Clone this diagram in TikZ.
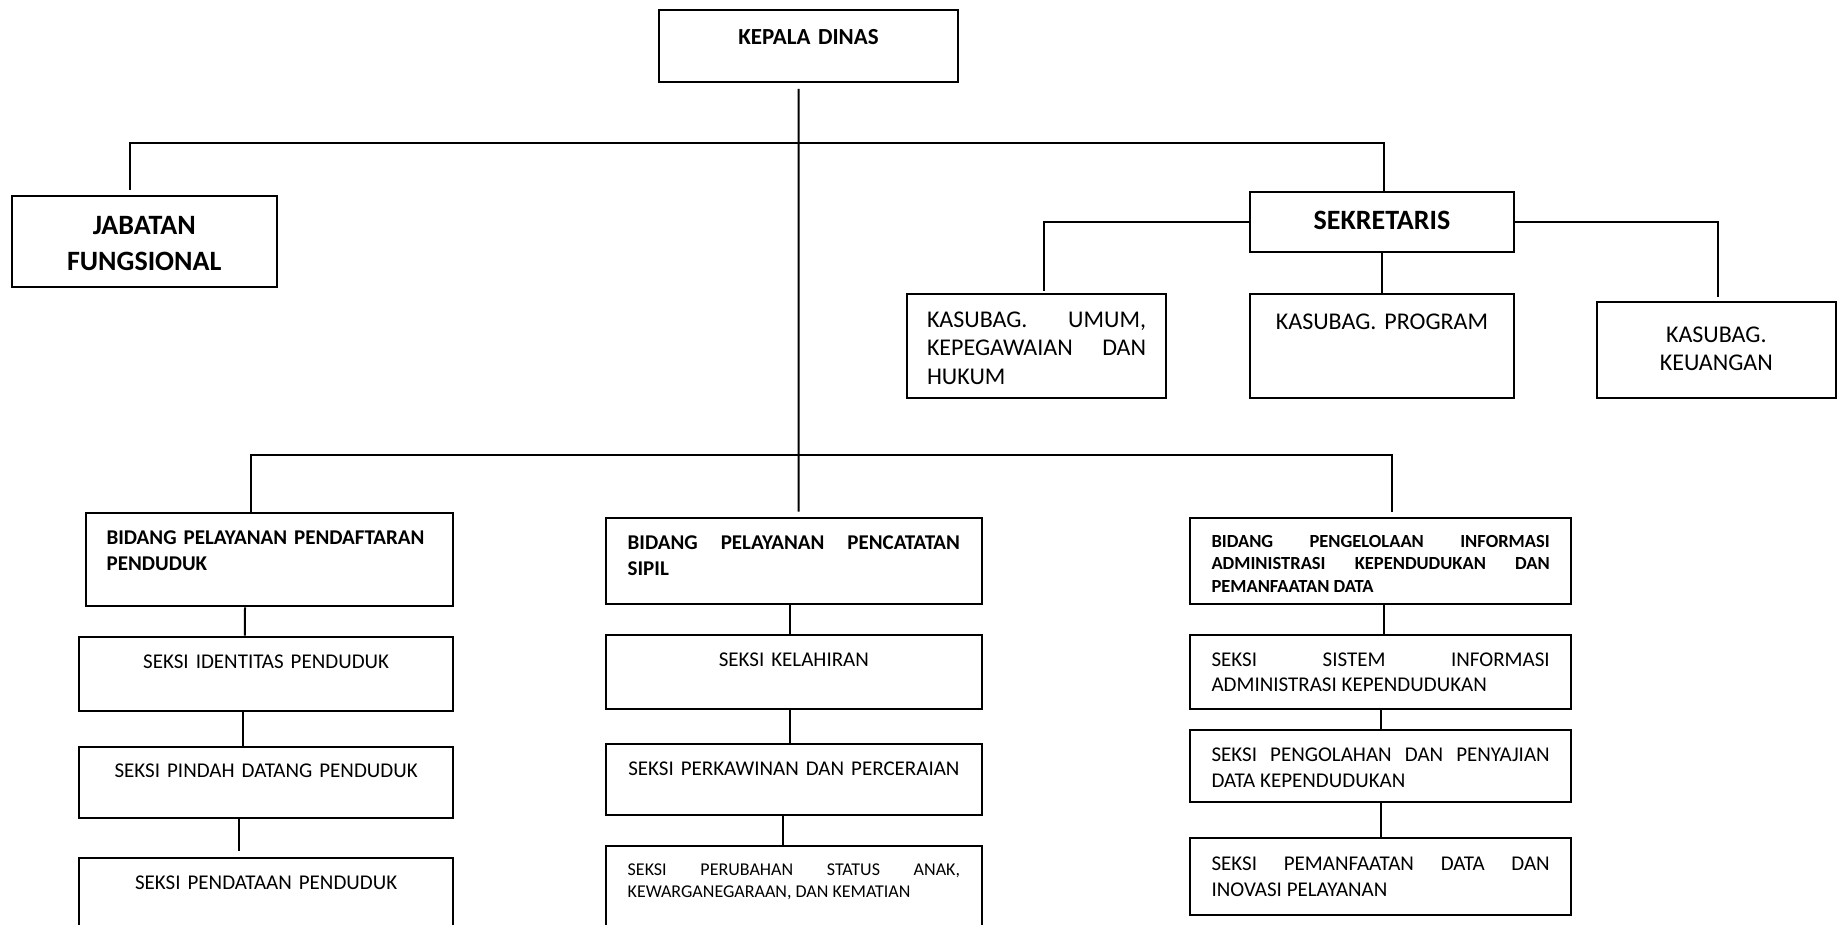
\documentclass[tikz,border=0pt]{standalone}
\usepackage{fontspec}
\setmainfont{Carlito}
\usepackage{tikz}
\frenchspacing

\tikzset{
	orgbox/.style={draw, line width=2pt, anchor=north west, inner ysep=0pt},
	link/.style={line width=2pt},
	seksi/.style={font=\fontsize{21}{25.7}\selectfont},
	seksikecil/.style={font=\fontsize{18}{22.7}\selectfont},
	kasubag/.style={font=\fontsize{24}{28.3}\selectfont},
	bidang/.style={font=\bfseries\fontsize{21}{26.2}\selectfont},
	bidangkecil/.style={font=\bfseries\fontsize{18.5}{22.8}\selectfont},
	kepala/.style={font=\bfseries\fontsize{23}{26}\selectfont},
	besar/.style={font=\bfseries\fontsize{28}{36}\selectfont}
}

\begin{document}
\begin{tikzpicture}[x=1pt, y=-1pt]
		
		\useasboundingbox (0,0) rectangle (1839,925);
		\clip (0,0) rectangle (1839,925);
		
		% pimpinan
		\node[orgbox, kepala, align=center, inner xsep=15pt, text width=269pt, text height=35pt, text depth=37pt] (kadis) at (658,9) {KEPALA DINAS};
		\node[orgbox, besar, align=center, inner xsep=10pt, text width=245.5pt, text height=38.3pt, text depth=52.7pt] (jafung) at (10.5,195) {JABATAN\\FUNGSIONAL};
		\node[orgbox, besar, align=center, inner xsep=10pt, text width=244pt, text height=37.6pt, text depth=22.7pt] (sekre) at (1249,190.7) {SEKRETARIS};
		
		% sekretariat
		\node[orgbox, kasubag, align=justify, inner xsep=20pt, text width=219pt, text height=34pt, text depth=70.6pt] (umum) at (906,292.7) {KASUBAG. UMUM,\linebreak KEPEGAWAIAN DAN\linebreak HUKUM};
		\node[orgbox, kasubag, align=center, inner xsep=10pt, text width=244pt, text height=35.6pt, text depth=69pt] (program) at (1249,292.7) {KASUBAG. PROGRAM};
		\node[orgbox, kasubag, align=center, inner xsep=10pt, text width=219.4pt, text height=41pt, text depth=55.6pt] (keuangan) at (1595.6,300.7) {\baselineskip=23.5pt KASUBAG.\\KEUANGAN};
		
		% bidang
		\node[orgbox, bidang, align=left, inner xsep=21pt, text width=325.4pt, text height=31.3pt, text depth=62pt] (daftar) at (84.6,512) {BIDANG PELAYANAN PENDAFTARAN\\PENDUDUK};
		\node[orgbox, bidang, align=justify, inner xsep=21.7pt, text width=332.3pt, text height=31.6pt, text depth=55pt] (capil) at (605,516.7) {BIDANG PELAYANAN PENCATATAN\linebreak SIPIL};
		\node[orgbox, bidangkecil, align=justify, inner xsep=21.3pt, text width=338.2pt, text height=28.7pt, text depth=57.3pt] (piak) at (1189.2,517.3) {BIDANG PENGELOLAAN INFORMASI\linebreak ADMINISTRASI KEPENDUDUKAN DAN\linebreak PEMANFAATAN DATA};
		
		% seksi pendaftaran penduduk
		\node[orgbox, seksi, align=center, inner xsep=15pt, text width=343.7pt, text height=31.6pt, text depth=43pt] (identitas) at (78.3,635.7) {SEKSI IDENTITAS PENDUDUK};
		\node[orgbox, seksi, align=center, inner xsep=15pt, text width=343.7pt, text height=31pt, text depth=40pt] (pindah) at (78.3,745.7) {SEKSI PINDAH DATANG PENDUDUK};
		\node[orgbox, seksi, align=center, inner xsep=15pt, text width=343.7pt, text height=31.6pt, text depth=78pt] (pendataan) at (78.3,856.7) {SEKSI PENDATAAN PENDUDUK};
		
		% seksi pencatatan sipil
		\node[orgbox, seksi, align=center, inner xsep=15pt, text width=345.7pt, text height=31pt, text depth=43.3pt] (lahir) at (605,634) {SEKSI KELAHIRAN};
		\node[orgbox, seksi, align=center, inner xsep=15pt, text width=345.7pt, text height=30.7pt, text depth=40pt] (kawin) at (605,743.3) {SEKSI PERKAWINAN DAN PERCERAIAN};
		\node[orgbox, seksikecil, align=justify, inner xsep=21.7pt, text width=332.3pt, text height=29pt, text depth=81pt] (status) at (605,845) {SEKSI PERUBAHAN STATUS ANAK,\linebreak KEWARGANEGARAAN, DAN KEMATIAN};
		
		% seksi informasi
		\node[orgbox, seksi, align=justify, inner xsep=21.3pt, text width=338.2pt, text height=31pt, text depth=43.3pt] (sistem) at (1189.2,634) {SEKSI SISTEM INFORMASI\linebreak ADMINISTRASI KEPENDUDUKAN};
		\node[orgbox, seksi, align=justify, inner xsep=21.3pt, text width=338.2pt, text height=31.4pt, text depth=40pt] (olah) at (1189.2,729.3) {SEKSI PENGOLAHAN DAN PENYAJIAN\linebreak DATA KEPENDUDUKAN};
		\node[orgbox, seksi, align=justify, inner xsep=21.3pt, text width=338.2pt, text height=32pt, text depth=45pt] (manfaat) at (1189.2,837.3) {SEKSI PEMANFAATAN DATA DAN\linebreak INOVASI PELAYANAN};
		
		% garis komando
		\coordinate (atas) at (797.5,143);
		\coordinate (bawah) at (797.5,455);
		\draw[link] ([xshift=-10pt,yshift=-6pt]kadis.south) -- ([xshift=4.7pt,yshift=5pt]capil.north);
		\draw[link] ([xshift=-14pt,yshift=5pt]jafung.north) |- (atas) -| ([xshift=2pt]sekre.north);
		\draw[link] ([xshift=-18.3pt]daftar.north) |- (bawah) -| ([xshift=11.4pt,yshift=5.6pt]piak.north);
		
		\draw[link] (sekre.west) -| ([xshift=7.5pt,yshift=2pt]umum.north);
		\draw[link] (sekre.south) -- (program.north);
		\draw[link] (sekre.east) -| ([xshift=1.4pt,yshift=4pt]keuangan.north);
		
		\draw[link] ([xshift=-24.3pt]daftar.south) -- ([xshift=-21.2pt]identitas.north);
		\draw[link] ([xshift=-23.6pt]identitas.south) -- ([xshift=-23.6pt]pindah.north);
		\draw[link] ([xshift=-26.8pt]pindah.south) -- ([xshift=-26.8pt,yshift=5.7pt]pendataan.north);
		
		\draw[link] ([xshift=-4pt]capil.south) -- ([xshift=-4pt]lahir.north);
		\draw[link] ([xshift=-4pt]lahir.south) -- ([xshift=-4pt]kawin.north);
		\draw[link] ([xshift=-11pt]kawin.south) -- ([xshift=-11pt]status.north);
		
		\draw[link] ([xshift=3pt]piak.south) -- ([xshift=3pt]sistem.north);
		\draw[link] ([xshift=0.7pt]sistem.south) -- ([xshift=0.7pt]olah.north);
		\draw[link] ([xshift=0.7pt]olah.south) -- ([xshift=0.7pt]manfaat.north);
		
		\end{tikzpicture}
\end{document}
